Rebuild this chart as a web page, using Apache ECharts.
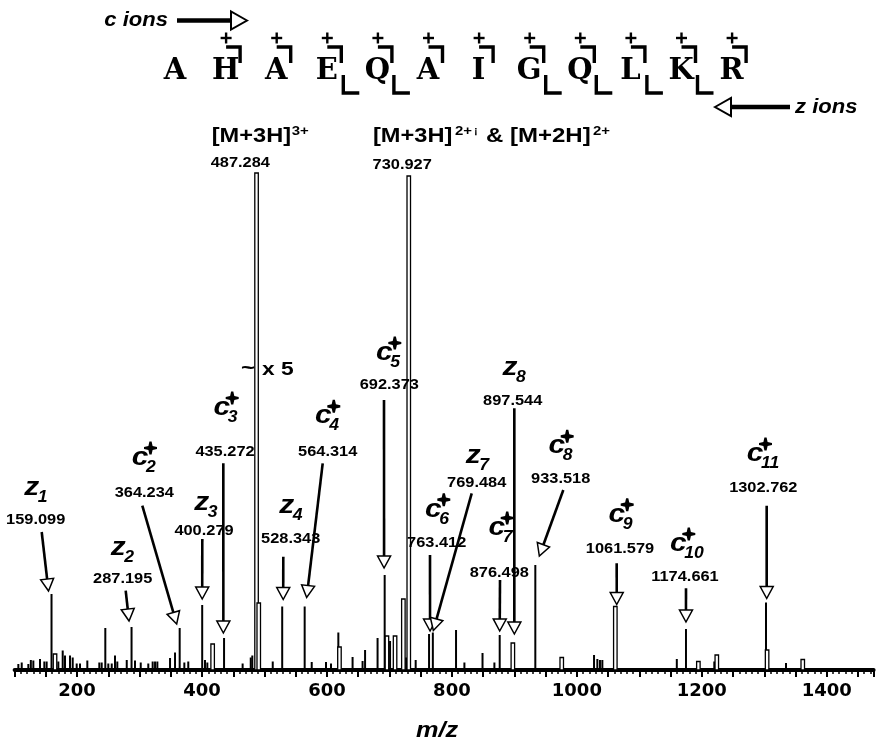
<!DOCTYPE html>
<html><head><meta charset="utf-8">
<script src="https://cdn.jsdelivr.net/npm/echarts@6/dist/echarts.min.js"></script>
<style>html,body{margin:0;padding:0;background:#fff}#c{width:884px;height:756px}</style>
</head><body><div id="c"></div>
<script>
// ---------------- DATA ----------------
// stick peaks: [m/z, relative intensity]
const stickPeaks = [[106,1.2],[111.4,1.5],[122,1.2],[126,2.0],[130,1.9],[140.7,2.2],[147.6,1.7],[151.3,1.7],[159.099,15.2],[170,1.7],[177,3.9],[180.7,2.9],[188.7,2.9],[193,2.5],[199.4,1.3],[204.7,1.3],[216.4,1.9],[235.6,1.5],[239.4,1.5],[245.2,8.4],[250,1.3],[255.5,1.3],[260.7,2.9],[264.4,1.7],[279.5,2.0],[287.195,8.6],[292.7,1.9],[301.9,1.5],[314,1.3],[321,1.7],[324.8,1.7],[328.5,1.7],[348.8,2.4],[356.8,3.5],[364.234,8.4],[371.7,1.5],[378,1.7],[400.279,13.0],[404.8,2.0],[408.5,1.5],[435.272,6.4],[465,1.3],[478,2.5],[480.5,2.9],[492.8,1.9],[513.2,1.7],[528.343,12.7],[564.314,12.7],[575.6,1.6],[598.5,1.6],[606.5,1.3],[618.2,7.5],[641,2.6],[657,1.8],[661,4.0],[681,6.4],[692.373,19.0],[701,5.8],[726.5,2.5],[742,2.0],[763.412,7.2],[769.484,7.5],[806.6,8.0],[820,1.5],[849,3.4],[868,1.5],[876.498,7.0],[933.518,21.0],[1027.5,3.0],[1032.8,2.2],[1037,2.0],[1040.8,2.0],[1160,2.2],[1174.661,8.2],[1220,1.7],[1302.762,13.5],[1334.8,1.4]];
// profile (outlined) peaks: [m/z, relative intensity]
const profilePeaks = [[164.7,3.2],[417,5.2],[487.284,99.4],[490.8,13.4],[620,4.6],[696,6.8],[709,6.8],[722.3,14.2],[730.927,98.8],[897.544,5.4],[975.8,2.5],[1061.579,12.7],[1194.5,1.7],[1224,3.0],[1304.5,4.0],[1361.6,2.1]];
const tickLabels = [200,400,600,800,1000,1200,1400];
// labelled fragment ions
const ionType  = ['z','z','c','z','c','z','c','c','c','z','c','z','c','c','c','c'];
const ionIndex = ['1','2','2','3','3','4','4','5','6','7','7','8','8','9','10','11'];
const ionMz    = [159.099,287.195,364.234,400.279,435.272,528.343,564.314,692.373,763.412,769.484,876.498,897.544,933.518,1061.579,1174.661,1302.762];
const ionInt   = [15.2,8.6,8.4,13.0,6.4,12.7,12.7,19.0,7.2,7.5,7.0,5.4,21.0,12.7,8.2,13.5];
const ionText  = ['159.099','287.195','364.234','400.279','435.272','528.343','564.314','692.373','763.412','769.484','876.498','897.544','933.518','1061.579','1174.661','1302.762'];
const seqLetters = ['A','H','A','E','Q','A','I','G','Q','L','K','R'];
const cSites = [1,2,3,4,5,6,7,8,9,10,11];
const zSites = [3,4,7,8,9,10];

// ---------------- LAYOUT (pixels) ----------------
// [letterX, letterY, valueX, valueY, arrowStartX, arrowStartY, tipDx, tipGap]
const ionLayout = [
 [31.7,490, 35.7,520, 41.7,532, -3,3],
 [118.3,550, 122.7,579.3, 125.7,590.7, -2.5,6],
 [140,460, 144.3,493.3, 142.3,505.7, -3,4],
 [201.7,505, 204,530.7, 202.3,539, 0,6],
 [221.7,410, 225,451.7, 223.3,463.3, -0.7,5],
 [286.7,508.3, 290.7,539.3, 283.3,556.7, 1,7],
 [323.3,418.3, 327.7,451.7, 322.7,463.3, 2,9],
 [384.3,355, 389.3,385, 384,400, -0.6,7],
 [433.3,511.7, 436.7,543.3, 430,555, 1,3],
 [473.3,458.3, 476.7,483.3, 471.7,493.3, 0.5,2],
 [496.7,530, 499.3,573.3, 500,580, 0,4],
 [510,370, 512.7,401, 514.3,408.3, 1.5,9],
 [556.7,448.3, 560.7,479.3, 563.3,490, 4,9],
 [616.7,516.7, 620,549.3, 616.7,563.3, 1.4,2],
 [678.3,546, 685,577.3, 686,588.3, 0,7],
 [755,456, 763.3,488.3, 766.7,505.7, 0.7,4]
];

const chart = echarts.init(document.getElementById('c'), null, {renderer:'canvas'});

function stickItem(params, api){
  const p0 = api.coord([api.value(0), 0]);
  const p1 = api.coord([api.value(0), api.value(1)]);
  return {type:'rect', shape:{x:p0[0]-1, y:p1[1], width:2, height:p0[1]-p1[1]}, style:{fill:'#000'}};
}
function profileItem(params, api){
  const p0 = api.coord([api.value(0), 0]);
  const p1 = api.coord([api.value(0), api.value(1)]);
  return {type:'rect', shape:{x:p0[0]-1.75, y:p1[1], width:3.5, height:p0[1]-p1[1]}, style:{fill:'#fff', stroke:'#000', lineWidth:1.3}};
}

chart.setOption({
  animation:false,
  backgroundColor:'#fff',
  grid:{left:14.6, right:10.4, top:170, bottom:86},
  xAxis:{type:'value', min:100, max:1475, interval:50,
    axisLine:{show:true, lineStyle:{color:'#000', width:4}},
    axisTick:{show:true, length:7, lineStyle:{color:'#000', width:2}},
    minorTick:{show:true, splitNumber:5, length:4, lineStyle:{color:'#000', width:1.5}},
    splitLine:{show:false}, minorSplitLine:{show:false},
    axisLabel:{margin:12, color:'#000', fontFamily:'DejaVu Sans', fontWeight:'bold', fontSize:18,
      formatter:v=> tickLabels.indexOf(v)>=0 ? String(v) : ''}
  },
  yAxis:{type:'value', min:0, max:100, show:false},
  series:[
    {type:'custom', renderItem:stickItem, data:stickPeaks, clip:true, z:2},
    {type:'custom', renderItem:profileItem, data:profilePeaks, clip:true, z:3}
  ]
});

// ---------------- ANNOTATIONS ----------------
const FF = '"Liberation Sans", Arial, sans-serif';
function txt(x,y,text,font,align,sx){
  return {type:'text', x:x, y:y, scaleX:sx||1, z:20,
    style:{text:text, font:font, fill:'#000', align:align||'center', textAlign:align||'center', verticalAlign:'middle', textVerticalAlign:'middle'}};
}
function arrow(x1,y1,x2,y2){
  const dx=x2-x1, dy=y2-y1, L=Math.hypot(dx,dy), ux=dx/L, uy=dy/L;
  const hl=12, hw=6.5;
  const bx=x2-ux*hl, by=y2-uy*hl, px=-uy, py=ux;
  return [
    {type:'line', z:15, shape:{x1:x1,y1:y1,x2:bx,y2:by}, style:{stroke:'#000', lineWidth:2.6}},
    {type:'polygon', z:16, shape:{points:[[x2,y2],[bx+px*hw,by+py*hw],[bx-px*hw,by-py*hw]]}, style:{fill:'#fff', stroke:'#000', lineWidth:1.5}}
  ];
}
function star(cx,cy){
  const a=6.5,b=1.1,c=2.1;
  const pts=[[-b,-a],[b,-a],[c,-c],[a,-b],[a,b],[c,c],[b,a],[-b,a],[-c,c],[-a,b],[-a,-b],[-c,-c]].map(p=>[cx+p[0],cy+p[1]]);
  return {type:'polygon', z:20, shape:{points:pts}, style:{fill:'#000'}};
}

const els = [];
ionMz.forEach((mz,i)=>{
  const L = ionLayout[i];
  const top = chart.convertToPixel({gridIndex:0},[mz, ionInt[i]]);
  const tx = top[0]+L[6], ty = top[1]-L[7];
  els.push(...arrow(L[4],L[5],tx,ty));
  els.push(txt(L[0],L[1]-2, ionType[i], 'italic bold 26px '+FF, 'center', 1.15));
  els.push(txt(L[0]+6,L[1]+7.5, ionIndex[i], 'italic bold 16px '+FF, 'left', 1.1));
  if(ionType[i]==='c') els.push(star(L[0]+10.5, L[1]-12));
  els.push(txt(L[2],L[3], ionText[i], 'bold 14px '+FF, 'center', 1.17));
});

// precursor labels
els.push(txt(211.7,136,'[M+3H]','bold 20px '+FF,'left',1.18));
els.push(txt(291.7,131,'3+','bold 13px '+FF,'left',1.15));
els.push(txt(240.3,163.5,'487.284','bold 14px '+FF,'center',1.17));
els.push(txt(373,136,'[M+3H]','bold 20px '+FF,'left',1.18));
els.push(txt(455,131,'2+','bold 13px '+FF,'left',1.15));
els.push(txt(474,131,'¡','bold 11px '+FF,'left',1));
els.push(txt(486,136,'& [M+2H]','bold 20px '+FF,'left',1.2));
els.push(txt(593,131,'2+','bold 13px '+FF,'left',1.15));
els.push(txt(402.2,165,'730.927','bold 14px '+FF,'center',1.17));
// magnification note
els.push(txt(255,368,'~','bold 20px '+FF,'right',1.2));
els.push(txt(262,370,'x 5','bold 19px '+FF,'left',1.2));

// sequence
const seqX0 = 175, seqDX = 50.6, seqY = 71;
seqLetters.forEach((s,i)=>{
  els.push(txt(seqX0+i*seqDX, seqY, s, 'bold 29px "DejaVu Serif", serif', 'center', 1.0));
});
cSites.forEach(i=>{
  const cx = seqX0+i*seqDX;
  els.push({type:'line', z:20, shape:{x1:cx+0.5-5.5,y1:38,x2:cx+0.5+5.5,y2:38}, style:{stroke:'#000',lineWidth:2.4}});
  els.push({type:'line', z:20, shape:{x1:cx+0.5,y1:32.5,x2:cx+0.5,y2:43.5}, style:{stroke:'#000',lineWidth:2.4}});
  els.push({type:'polyline', z:20, shape:{points:[[cx+0.5,47],[cx+14.5,47],[cx+14.5,63]]}, style:{stroke:'#000',lineWidth:3.4,fill:null,lineJoin:'miter'}});
});
zSites.forEach(i=>{
  const cx = seqX0+i*seqDX;
  els.push({type:'polyline', z:20, shape:{points:[[cx+16.5,75],[cx+16.5,93],[cx+32.5,93]]}, style:{stroke:'#000',lineWidth:3.4,fill:null,lineJoin:'miter'}});
});
// c ions / z ions
els.push(txt(168,20,'c ions','italic bold 21px '+FF,'right',1.05));
els.push({type:'line', z:20, shape:{x1:177,y1:20.5,x2:231,y2:20.5}, style:{stroke:'#000',lineWidth:4.4}});
els.push({type:'polygon', z:21, shape:{points:[[247,20.5],[231,11.5],[231,29.5]]}, style:{fill:'#fff',stroke:'#000',lineWidth:2}});
els.push(txt(795,107,'z ions','italic bold 21px '+FF,'left',1.05));
els.push({type:'line', z:20, shape:{x1:731,y1:107,x2:790,y2:107}, style:{stroke:'#000',lineWidth:4.4}});
els.push({type:'polygon', z:21, shape:{points:[[715,107],[731,98],[731,116]]}, style:{fill:'#fff',stroke:'#000',lineWidth:2}});
// axis name
els.push(txt(437,731,'m/z','italic bold 22px '+FF,'center',1.15));

chart.setOption({graphic:{elements:els}});
</script>
</body></html>
